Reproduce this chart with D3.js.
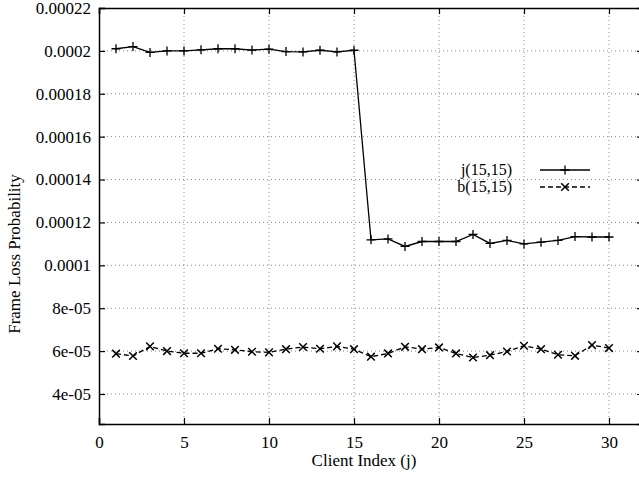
<!DOCTYPE html>
<html><head><meta charset="utf-8">
<script src="https://cdn.jsdelivr.net/npm/d3@7"></script>
<style>body{margin:0;background:#fff}svg{display:block}svg text{font-family:"Liberation Serif","Times New Roman",serif !important;fill:#000}</style>
</head><body><svg id="c" width="639" height="481"></svg>
<script>
const clients = d3.range(1, 31);
const jValues = [0.000201,0.000202,0.0001993,0.0002,0.0002,0.0002005,0.000201,0.000201,0.0002004,0.0002008,
  0.0001997,0.0001995,0.0002003,0.0001995,0.0002003,0.0001119,0.0001123,0.0001088,0.0001111,0.0001111,
  0.0001111,0.0001144,0.0001102,0.0001116,0.00011,0.0001108,0.0001116,0.0001134,0.0001132,0.0001132];
const bValues = [5.88e-5,5.77e-5,6.22e-5,6.0e-5,5.9e-5,5.9e-5,6.11e-5,6.06e-5,5.97e-5,5.94e-5,
  6.09e-5,6.19e-5,6.11e-5,6.22e-5,6.09e-5,5.74e-5,5.89e-5,6.2e-5,6.09e-5,6.17e-5,
  5.89e-5,5.7e-5,5.81e-5,5.98e-5,6.25e-5,6.09e-5,5.83e-5,5.78e-5,6.28e-5,6.14e-5];
const xTicks = [0,5,10,15,20,25,30];
const yTicks = [4e-5,6e-5,8e-5,0.0001,0.00012,0.00014,0.00016,0.00018,0.0002,0.00022];
const yTickLabels = ["4e-05","6e-05","8e-05","0.0001","0.00012","0.00014","0.00016","0.00018","0.0002","0.00022"];
const seriesNames = ["j(15,15)","b(15,15)"];

const svg = d3.select("#c");
const L=99, R=643, T=8, B=424;
const x = d3.scaleLinear().domain([0,32]).range([L,R]);
const y = d3.scaleLinear().domain([2.6e-5,0.00022]).range([B,T]);

// grid
const g = svg.append("g");
g.selectAll(".gx").data(xTicks.filter(t=>t>0)).join("line")
  .attr("x1",d=>x(d)).attr("x2",d=>x(d)).attr("y1",T).attr("y2",B)
  .attr("stroke","#888").attr("stroke-width",1).attr("stroke-dasharray","1,3");
g.selectAll(".gy").data(yTicks.filter(t=>t<0.00022)).join("line")
  .attr("x1",L).attr("x2",R).attr("y1",d=>y(d)).attr("y2",d=>y(d))
  .attr("stroke","#888").attr("stroke-width",1).attr("stroke-dasharray","1,3");

// axes
const ax = svg.append("g").attr("transform",`translate(0,${B})`)
  .call(d3.axisBottom(x).tickValues(xTicks).tickSize(-6).tickPadding(12).tickFormat(d3.format("d")));
const ay = svg.append("g").attr("transform",`translate(${L},0)`)
  .call(d3.axisLeft(y).tickValues(yTicks).tickSize(-6).tickPadding(8).tickFormat((d,i)=>yTickLabels[i]));
const axT = svg.append("g").attr("transform",`translate(0,${T})`)
  .call(d3.axisTop(x).tickValues(xTicks).tickSize(-6).tickFormat(""));
const ayR = svg.append("g").attr("transform",`translate(${R},0)`)
  .call(d3.axisRight(y).tickValues(yTicks).tickSize(-6).tickFormat(""));
[ax,ay,axT,ayR].forEach(a=>{
  a.attr("font-family",null).attr("font-size",null);
  a.select(".domain").attr("stroke","#000").attr("stroke-width",1.5);
  a.selectAll(".tick line").attr("stroke","#000").attr("stroke-width",1.2);
  a.selectAll("text").style("font-size","17px").style("font-family","'Liberation Serif', serif").attr("fill","#000");
});

// series
const line = d3.line().x((d,i)=>x(clients[i])).y(d=>y(d));
svg.append("path").datum(jValues).attr("d",line).attr("fill","none").attr("stroke","#000").attr("stroke-width",1.3);
svg.append("path").datum(bValues).attr("d",line).attr("fill","none").attr("stroke","#000").attr("stroke-width",1.3).attr("stroke-dasharray","5,3");

function plus(sel,cx,cy){ const s=4.5;
  sel.append("path").attr("d",`M${cx-s},${cy}H${cx+s}M${cx},${cy-s}V${cy+s}`).attr("stroke","#000").attr("stroke-width",1.3); }
function cross(sel,cx,cy){ const s=3.8;
  sel.append("path").attr("d",`M${cx-s},${cy-s}L${cx+s},${cy+s}M${cx-s},${cy+s}L${cx+s},${cy-s}`).attr("stroke","#000").attr("stroke-width",1.5); }
const mk = svg.append("g");
jValues.forEach((v,i)=>plus(mk,x(clients[i]),y(v)));
bValues.forEach((v,i)=>cross(mk,x(clients[i]),y(v)));

// legend
const lg = svg.append("g");
[0,1].forEach(k=>{
  const ly = 170 + k*17;
  lg.append("text").attr("x",512).attr("y",ly+5).attr("text-anchor","end").style("font-size","16px").text(seriesNames[k]);
  const ln = lg.append("line").attr("x1",540).attr("x2",590).attr("y1",ly).attr("y2",ly).attr("stroke","#000").attr("stroke-width",1.3);
  if(k===1) ln.attr("stroke-dasharray","5,3");
  if(k===0) plus(lg,565,ly); else cross(lg,565,ly);
});

// titles
svg.append("text").attr("x",364).attr("y",466).attr("text-anchor","middle").style("font-size","17px").text("Client Index (j)");
svg.append("text").attr("transform","translate(20,254) rotate(-90)").attr("text-anchor","middle").style("font-size","17px").text("Frame Loss Probability");
</script></body></html>
